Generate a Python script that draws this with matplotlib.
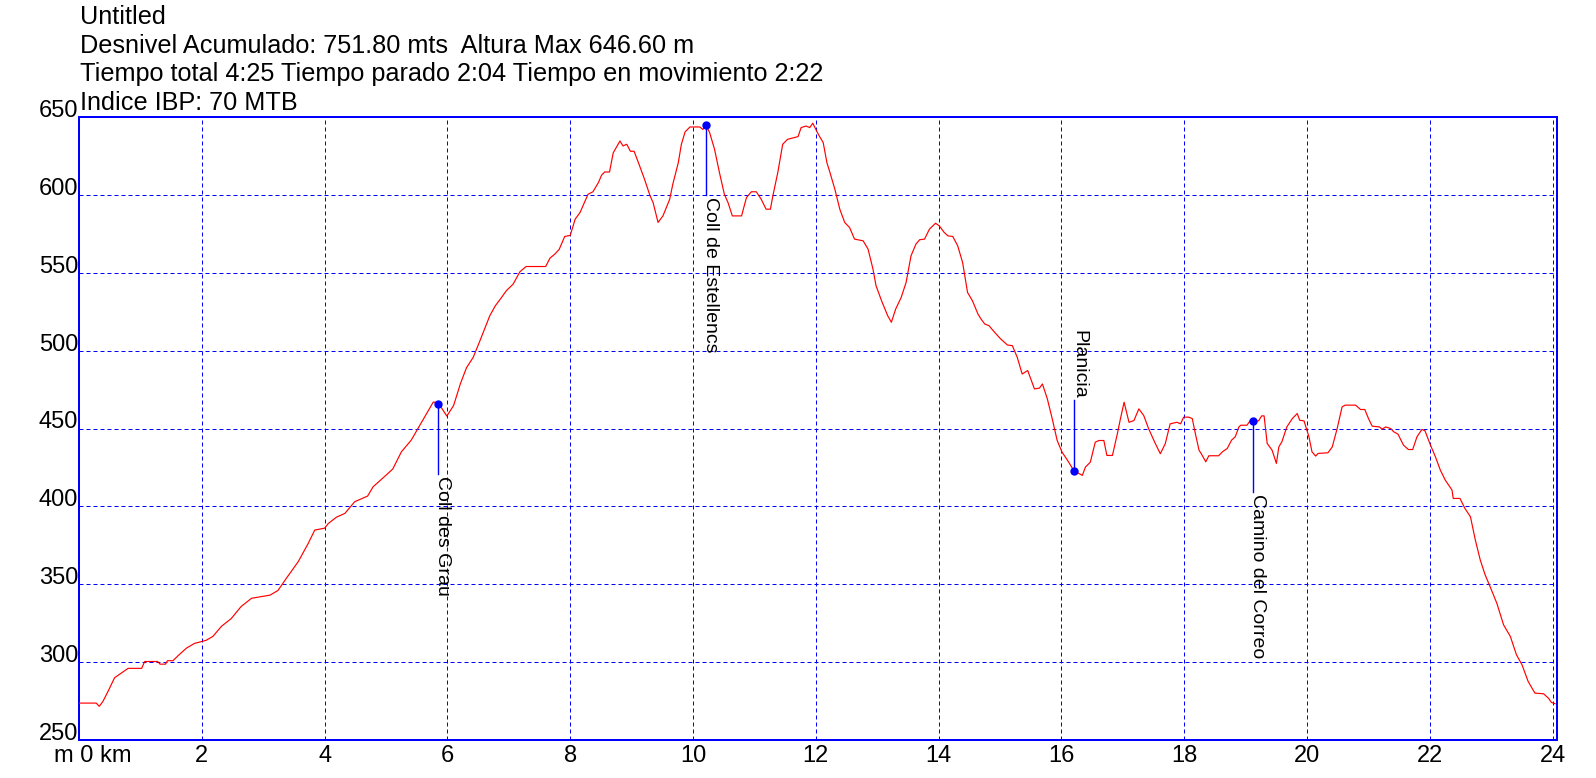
import matplotlib
matplotlib.use('Agg')
import matplotlib.pyplot as plt
from matplotlib.transforms import offset_copy

# distance (km) and altitude (m)
dist_km = [0.0, 0.28, 0.33, 0.39, 0.47, 0.58, 0.69, 0.80, 1.02, 1.07, 1.28, 1.32, 1.41, 1.44, 1.53,
           1.61, 1.75, 1.88, 2.07, 2.18, 2.32, 2.48, 2.64, 2.81, 3.11, 3.24, 3.38, 3.57, 3.73, 3.84,
           4.0, 4.06, 4.19, 4.33, 4.49, 4.70, 4.79, 5.0, 5.11, 5.25, 5.41, 5.52, 5.66, 5.77, 5.85,
           5.99, 6.1, 6.21, 6.31, 6.42, 6.53, 6.69, 6.78, 6.86, 6.96, 7.07, 7.18, 7.28, 7.6, 7.67,
           7.75, 7.82, 7.91, 8.0, 8.08, 8.16, 8.29, 8.37, 8.46, 8.51, 8.56, 8.64, 8.70, 8.81, 8.86,
           8.92, 8.98, 9.04, 9.13, 9.21, 9.3, 9.35, 9.43, 9.51, 9.62, 9.67, 9.76, 9.81, 9.87, 9.95,
           10.11, 10.16, 10.21, 10.27, 10.35, 10.43, 10.51, 10.57, 10.64, 10.79, 10.87, 10.95, 11.03,
           11.11, 11.19, 11.26, 11.3, 11.38, 11.46, 11.54, 11.71, 11.76, 11.84, 11.9, 11.95,
           12.04, 12.12, 12.18, 12.23, 12.31, 12.39, 12.47, 12.55, 12.63, 12.77, 12.85, 12.93, 12.98,
           13.07, 13.17, 13.23, 13.3, 13.39, 13.47, 13.55, 13.63, 13.69, 13.77, 13.85, 13.95, 14.01,
           14.09, 14.15, 14.23, 14.31, 14.39, 14.47, 14.55, 14.64, 14.69, 14.75, 14.82, 14.91, 15.01,
           15.12, 15.2, 15.28, 15.36, 15.45, 15.5, 15.56, 15.64, 15.69, 15.77, 15.85, 15.93, 16.01,
           16.1, 16.2, 16.34, 16.39, 16.47, 16.55, 16.61, 16.69, 16.74, 16.83, 16.91, 16.96, 17.02,
           17.1, 17.18, 17.26, 17.34, 17.42, 17.53, 17.61, 17.69, 17.77, 17.88, 17.94, 17.99, 18.07,
           18.13, 18.18, 18.24, 18.29, 18.35, 18.4, 18.56, 18.62, 18.7, 18.77, 18.83, 18.89, 18.92,
           19.02, 19.08, 19.12, 19.21, 19.26, 19.3, 19.35, 19.43, 19.5, 19.54, 19.59, 19.67, 19.76,
           19.84, 19.88, 19.95, 20.03, 20.08, 20.14, 20.18, 20.34, 20.41, 20.49, 20.57, 20.62, 20.79,
           20.87, 20.94, 21.0, 21.06, 21.18, 21.22, 21.28, 21.36, 21.41, 21.48, 21.57, 21.65, 21.72,
           21.79, 21.87, 21.92, 22.01, 22.09, 22.17, 22.25, 22.36, 22.38, 22.49, 22.57, 22.66, 22.74,
           22.82, 22.9, 22.98, 23.09, 23.2, 23.31, 23.41, 23.5, 23.6, 23.71, 23.85, 23.93, 23.98, 24.04]
alt_m = [273.7, 273.7, 271.6, 274.8, 281, 290, 293, 296, 296, 300.4, 300.4, 298.7, 298.7, 300.9, 300.9,
         304, 309, 312, 314, 316.5, 323, 328, 335.7, 341, 343, 346, 354, 364.5, 376, 384.8,
         386, 389, 393, 395.5, 403, 406.6, 412.6, 420, 424, 435, 442.5, 450, 459.6, 467, 466.5,
         458, 464.7, 478.6, 489, 495.7, 506.4, 522.4, 528.8, 533, 538.5, 542.7, 550.6, 554, 554, 559.4,
         562, 565, 573.3, 574, 584.4, 588.7, 600.4, 602, 608, 612.6, 614.7, 614.7, 627, 634.6, 631.4,
         632.5, 628, 628, 618.6, 610, 599.4, 595, 582.3, 586.5, 597.2, 606.8, 620.7, 632.5, 640.4, 643.6,
         643.6, 642, 644.9, 640, 629.3, 614.3, 600.4, 595, 586.5, 586.5, 598.3, 602, 602,
         597.2, 590.8, 590.8, 599.4, 614.3, 632.5, 635.7, 637.4, 643.2, 644.2, 643.2, 646,
         638.9, 633.5, 620.7, 614.3, 603.6, 590.8, 582.3, 579, 571.6, 570.5, 565.2, 552.4, 541.7,
         532, 522.4, 518.2, 526.7, 534.2, 543.8, 560.9, 568.4, 571.2, 571.6, 578, 581.8, 580.1,
         575.9, 573.7, 573.3, 567.3, 556.6, 537.4, 532, 523.5, 520.3, 517.1, 516, 511.8, 507.5,
         503.6, 503.2, 495.7, 485, 487.2, 481.8, 475.4, 475.9, 478.6, 469, 456.2, 442.3, 434.8,
         429.5, 423, 419.9, 425.2, 428.4, 441.2, 442.3, 442.3, 432.7, 432.7, 446.6, 456.2, 466.9,
         454, 455.1, 462.6, 458.3, 449.8, 440.2, 433.8, 440.2, 453, 454, 453, 457.3, 457.3,
         456.4, 446.8, 436.1, 432.9, 428.6, 432.5, 432.5, 435, 437.2, 442.5, 444.7, 451, 452.1,
         452.1, 455.3, 454.3, 454.9, 458.1, 458.1, 440.4, 436.1, 427.6, 438.2, 441.5, 451, 456.4,
         459.6, 455.3, 454.9, 444.7, 435, 432.3, 434, 434.4, 438.2, 450, 463.9, 465, 465,
         462.2, 462.2, 456.4, 451.5, 451, 449.6, 451, 450, 447.9, 446.4, 439.3, 436.5, 436.5,
         444.7, 449.4, 448.5, 439.3, 431.8, 423.3, 416.9, 410.5, 405.1, 405.1, 398.7, 393.4, 378.4,
         365.6, 356, 348.5, 337.8, 323.9, 316.5, 304.7, 298.3, 287.6, 280.1, 279.7, 276.9, 274.1, 273.3]

# waypoints
wp_names = ["Coll des Grau", "Coll de Estellencs", "Planicia", "Camino del Correo"]
wp_km = [5.85, 10.21, 16.21, 19.12]
wp_alt = [465.5, 644.8, 423.0, 454.5]
wp_up = [False, False, True, False]

header = ["Untitled",
          "Desnivel Acumulado: 751.80 mts  Altura Max 646.60 m",
          "Tiempo total 4:25 Tiempo parado 2:04 Tiempo en movimiento 2:22",
          "Indice IBP: 70 MTB"]

x_ticks = list(range(0, 25, 2))
y_ticks = list(range(250, 651, 50))

plt.rcParams['font.family'] = ['Liberation Sans', 'DejaVu Sans']

W, H = 1596, 778
fig = plt.figure(figsize=(W / 100, H / 100), dpi=100)
ax = fig.add_axes([79 / W, (H - 740) / H, (1557 - 79) / W, (740 - 117) / H])

ax.plot(dist_km, alt_m, color='red', lw=0.85, zorder=3)

for name, k, a, up in zip(wp_names, wp_km, wp_alt, wp_up):
    end = a + 45 if up else a - 45
    ax.plot([k, k], [a, end], color='#0000ff', lw=1.0, zorder=4)
    ax.plot(k, a, 'o', color='#0000ff', ms=5, zorder=5)
    tr = offset_copy(ax.transData, fig=fig, x=-4, y=2 if up else -2, units='dots')
    ax.text(k, end, name, rotation=-90, ha='left', va='bottom' if up else 'top',
            fontsize=14, transform=tr, zorder=5)

ax.set_xlim(0, 24.07)
ax.set_ylim(250, 650)
ax.set_xticks(x_ticks, [''] + [str(v) for v in x_ticks[1:]])
ax.set_yticks(y_ticks, [str(v) for v in y_ticks])
ax.tick_params(length=0, labelsize=17)
ax.tick_params(axis='x', pad=3.5)
ax.tick_params(axis='y', pad=0.5)
for lbl in ax.get_yticklabels():
    lbl.set_va('baseline')

ax.grid(True, color='#0000ff', linestyle=(0, (4, 3)), lw=0.72, zorder=1)
for sp in ax.spines.values():
    sp.set_color('#0000ff')
    sp.set_linewidth(1.44)

tr0 = offset_copy(ax.get_xaxis_transform(), fig=fig, x=-25, y=-4.5, units='dots')
ax.text(0, 0, "m 0 km", ha='left', va='top', fontsize=17, transform=tr0)

for i, line in enumerate(header):
    fig.text(80 / W, 1 - (24 + 28.7 * i) / H, line, fontsize=18.2, ha='left', va='baseline')

fig.savefig('out.png', dpi=100)
